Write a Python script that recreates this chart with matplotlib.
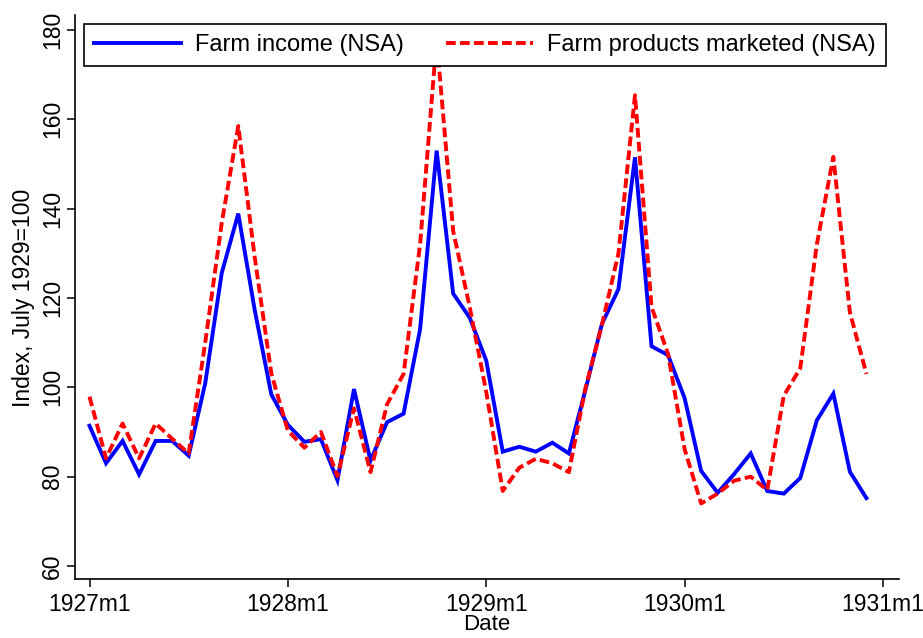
import matplotlib
matplotlib.use("Agg")
import matplotlib.pyplot as plt
import numpy as np

plt.rcParams['font.family'] = ['Liberation Sans', 'DejaVu Sans']

# Monthly data, 1927m1 .. 1930m12
months_index = list(range(48))
farm_income = [91.4, 83.0, 88.0, 80.5, 88.0, 88.0, 84.7, 100.9, 125.6, 138.9, 117.2, 98.4,
               91.6, 87.8, 88.4, 79.2, 99.6, 83.6, 92.2, 94.1, 113.0, 153.0, 121.0, 115.6,
               106.0, 85.6, 86.7, 85.6, 87.6, 85.2, 99.4, 114.2, 122.0, 151.5, 109.2, 107.2,
               97.6, 81.3, 76.4, 80.6, 85.2, 76.8, 76.2, 79.7, 92.6, 98.6, 81.1, 75.2]
farm_products = [97.9, 84.1, 91.9, 84.1, 91.9, 88.5, 85.2, 110.0, 136.8, 158.5, 129.0, 103.1,
                 90.3, 86.5, 90.0, 80.1, 95.3, 81.0, 96.2, 103.0, 132.0, 178.0, 135.0, 118.0,
                 99.0, 76.8, 82.0, 84.0, 83.0, 81.0, 99.8, 114.0, 130.0, 165.4, 118.0, 107.5,
                 86.2, 74.0, 76.2, 79.1, 80.0, 77.0, 98.1, 104.3, 132.0, 151.6, 116.8, 103.0]
x_tick_pos = [0, 12, 24, 36, 48]
x_tick_labels = ["1927m1", "1928m1", "1929m1", "1930m1", "1931m1"]
y_ticks = [60, 80, 100, 120, 140, 160, 180]

W, H = 923, 638
fig = plt.figure(figsize=(W / 100, H / 100), dpi=100)
L, R, T, B = 75, 899, 15, 579
ax = fig.add_axes([L / W, 1 - B / H, (R - L) / W, (B - T) / H])

ax.plot(months_index, farm_income, color=(0, 0, 1), lw=2.8, solid_joinstyle='miter',
        label="Farm income (NSA)")
ax.plot(months_index, farm_products, color=(1, 0, 0), lw=2.8, dashes=(2.5, 1.1),
        dash_capstyle='butt', label="Farm products marketed (NSA)")

# scales: 1927m1 at x=89.5 px, 16.53 px/month ; 180 at y=30, 60 at y=566
pxm = 16.53
ax.set_xlim(-(89.5 - L) / pxm, 48 + (R - (89.5 + 48 * pxm)) / pxm)
pyu = (566 - 30) / 120
ax.set_ylim(60 - (B - 566) / pyu, 180 + (30 - T) / pyu)

ax.set_xticks(x_tick_pos)
ax.set_xticklabels(x_tick_labels)
ax.set_yticks(y_ticks)
ax.set_yticklabels([str(v) for v in y_ticks], rotation=90, va='center')

fs = 16.5
ax.tick_params(axis='both', labelsize=fs, length=6, width=1.1, color='black', labelcolor='black')
ax.tick_params(axis='x', pad=4)
ax.tick_params(axis='y', pad=2)
for s in ['top', 'right']:
    ax.spines[s].set_visible(False)
for s in ['left', 'bottom']:
    ax.spines[s].set_linewidth(1.2)

ax.set_xlabel("Date", fontsize=16, labelpad=-1)
fig.text(24 / W, 1 - 298 / H, "Index, July 1929=100", rotation=90, ha='center', va='center',
         fontsize=fs)

leg = ax.legend(loc='upper left', bbox_to_anchor=(84 / W, 1 - 24 / H), bbox_transform=fig.transFigure,
                ncol=2, frameon=True, fancybox=False, edgecolor='black', framealpha=1,
                fontsize=17, handlelength=3.7, handletextpad=0.6, columnspacing=1.75,
                borderpad=0.42, borderaxespad=0)
leg.get_frame().set_linewidth(1.2)

fig.savefig("out.png", dpi=100)
